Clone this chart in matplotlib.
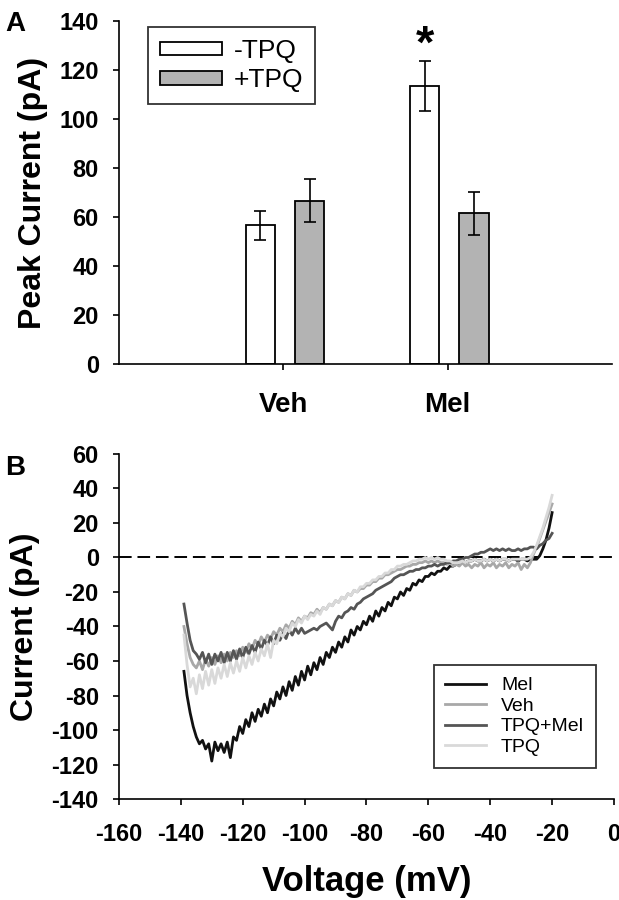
import matplotlib
matplotlib.use("Agg")
import matplotlib.pyplot as plt
import numpy as np

plt.rcParams["font.family"] = ["Liberation Sans", "DejaVu Sans"]
plt.rcParams["axes.unicode_minus"] = False

# panel A data
groups = ["Veh", "Mel"]
peak_minus = [56.6, 113.4]
err_minus = [5.8, 10.3]
peak_plus = [66.6, 61.5]
err_plus = [8.8, 8.7]
legend_a = ["-TPQ", "+TPQ"]

# panel B data, one value per mV from -139 to -20
voltage = list(range(-139, -19))
mel = [-66, -80, -90, -98, -104, -108, -106, -111, -108, -118,
       -107, -112, -108, -113, -107, -116, -104, -106, -98, -102,
       -94, -98, -90, -95, -88, -92, -85, -90, -82, -86,
       -78, -82, -75, -80, -72, -77, -69, -74, -66, -71,
       -63, -68, -61, -65, -58, -62, -55, -58, -52, -55,
       -49, -52, -46, -49, -42, -45, -40, -42, -37, -39,
       -34, -37, -31, -34, -29, -31, -26, -28, -23, -24,
       -20, -22, -18, -19, -15, -16, -13, -14, -11, -11,
       -9, -10, -8, -8, -6, -7, -5, -5, -4, -4,
       -2, -3, -2, -2, -1, -2, -2, -1, -2, -1,
       -2, -1, -2, -1, -1, -2, -1, -1, -2, -1,
       -1, -2, -1, -1, -1, 1, 5, 10, 17, 26]
veh = [-40, -50, -58, -62, -64, -60, -65, -59, -63, -58,
       -62, -57, -61, -56, -60, -55, -58, -54, -57, -52,
       -55, -50, -53, -48, -51, -46, -49, -45, -47, -43,
       -45, -41, -43, -39, -41, -37, -39, -35, -37, -34,
       -35, -32, -33, -30, -32, -29, -30, -27, -28, -25,
       -26, -23, -24, -21, -22, -19, -20, -18, -18, -16,
       -16, -14, -14, -12, -12, -10, -10, -9, -8, -7,
       -7, -6, -5, -5, -4, -4, -3, -3, -2, -3,
       -2, -3, -2, -3, -3, -4, -3, -5, -4, -5,
       -3, -5, -4, -6, -4, -5, -3, -6, -4, -5,
       -3, -6, -4, -5, -3, -6, -4, -5, -3, -7,
       -4, -6, -3, 2, 6, 11, 16, 21, 26, 31]
tpq_mel = [-27, -38, -48, -54, -56, -59, -55, -61, -56, -62,
           -56, -60, -55, -61, -55, -60, -54, -59, -53, -58,
           -52, -56, -51, -55, -49, -53, -48, -51, -46, -50,
           -45, -48, -44, -47, -42, -45, -41, -44, -41, -44,
           -43, -42, -41, -42, -40, -39, -38, -40, -42, -37,
           -34, -35, -32, -31, -29, -30, -27, -26, -24, -23,
           -22, -21, -19, -18, -17, -16, -15, -14, -12, -11,
           -10, -10, -9, -8, -8, -7, -7, -6, -6, -5,
           -5, -4, -5, -4, -4, -3, -3, -2, -2, -1,
           -1, 0, 0, 1, 2, 2, 3, 3, 4, 5,
           4, 5, 4, 5, 4, 5, 4, 4, 5, 4,
           5, 5, 6, 6, 5, 7, 8, 10, 11, 14]
tpq = [-45, -62, -75, -70, -79, -68, -76, -66, -74, -65,
       -73, -64, -70, -62, -69, -61, -67, -60, -66, -58,
       -64, -57, -62, -55, -60, -53, -57, -50, -58, -48,
       -50, -44, -46, -41, -43, -38, -40, -36, -38, -34,
       -36, -33, -34, -31, -33, -29, -30, -27, -28, -25,
       -26, -23, -24, -21, -22, -19, -20, -17, -17, -15,
       -15, -13, -13, -11, -11, -9, -9, -7, -7, -5,
       -5, -4, -4, -3, -2, -2, -1, -1, 0, -1,
       0, -1, 0, -1, -1, -2, -2, -3, -3, -3,
       -2, -3, -2, -2, -1, -2, -2, -1, -2, -1,
       -2, -1, -2, -1, -1, -2, -1, -1, -1, -1,
       -1, -1, 0, 3, 7, 12, 17, 23, 29, 36]
trace_names = ["Mel", "Veh", "TPQ+Mel", "TPQ"]
trace_colors = ["#111111", "#a8a8a8", "#555555", "#d9d9d9"]

fig = plt.figure(figsize=(6.19, 9.0), dpi=100)

# ---- panel A ----
axA = fig.add_axes([0.1922, 0.5956, 0.7965, 0.3811])
x = np.arange(len(groups))
w = 0.18
axA.bar(x - 0.14, peak_minus, w, color="white", edgecolor="black", lw=1.3,
        label=legend_a[0], zorder=2)
axA.bar(x + 0.16, peak_plus, w, color="#b3b3b3", edgecolor="black", lw=1.3,
        label=legend_a[1], zorder=2)
axA.errorbar(x - 0.14, peak_minus, yerr=err_minus, fmt="none", ecolor="black",
             elinewidth=1.2, capsize=4, capthick=1.2, zorder=3)
axA.errorbar(x + 0.16, peak_plus, yerr=err_plus, fmt="none", ecolor="black",
             elinewidth=1.2, capsize=4, capthick=1.2, zorder=3)
axA.text(1 - 0.14, 130, "*", ha="center", va="center", fontsize=34, fontweight="bold")

axA.set_xlim(-1, 2)
axA.set_ylim(0, 140)
axA.set_yticks(range(0, 141, 20))
axA.set_xticks(x)
axA.set_xticklabels(groups, fontsize=20, fontweight="bold")
axA.set_ylabel("Peak Current (pA)", fontsize=23, fontweight="bold", labelpad=8)
for s in ["top", "right"]:
    axA.spines[s].set_visible(False)
for s in ["left", "bottom"]:
    axA.spines[s].set_linewidth(1.2)
axA.tick_params(axis="y", direction="out", length=4.5, width=1.2, pad=10, labelsize=17)
axA.tick_params(axis="x", direction="out", length=4, width=1.2, pad=16)
for lab in axA.get_yticklabels():
    lab.set_fontweight("bold")
legA = axA.legend(loc="upper left", bbox_to_anchor=(0.059, 0.983), borderaxespad=0,
                  fontsize=19, frameon=True, fancybox=False, edgecolor="black",
                  handlelength=2.35, handleheight=0.4, handletextpad=0.45,
                  borderpad=0.45, labelspacing=0.22)
legA.get_frame().set_linewidth(1.3)
fig.text(0.008, 0.988, "A", fontsize=20, fontweight="bold", va="top")

# ---- panel B ----
axB = fig.add_axes([0.1922, 0.1122, 0.7997, 0.3834])
axB.axhline(0, color="black", lw=1.4, ls=(0, (6.5, 3)), zorder=1)
for vals, name, col in zip([mel, veh, tpq_mel, tpq], trace_names, trace_colors):
    axB.plot(voltage, vals, color=col, lw=2.0, label=name, zorder=2)
axB.set_xlim(-160, 0)
axB.set_ylim(-140, 60)
axB.set_xticks(range(-160, 1, 20))
axB.set_yticks(range(-140, 61, 20))
axB.set_xlabel("Voltage (mV)", fontsize=25, fontweight="bold", labelpad=14)
axB.set_ylabel("Current (pA)", fontsize=23, fontweight="bold", labelpad=8)
for s in ["top", "right"]:
    axB.spines[s].set_visible(False)
for s in ["left", "bottom"]:
    axB.spines[s].set_linewidth(1.2)
axB.tick_params(axis="y", direction="out", length=4.5, width=1.2, pad=10, labelsize=17)
axB.tick_params(axis="x", direction="out", length=4, width=1.2, pad=13, labelsize=17)
for lab in axB.get_xticklabels() + axB.get_yticklabels():
    lab.set_fontweight("bold")
legB = axB.legend(loc="upper left", bbox_to_anchor=(0.636, 0.388), borderaxespad=0,
                  fontsize=14, frameon=True, fancybox=False, edgecolor="black",
                  handlelength=2.1, handletextpad=0.75, borderpad=0.6,
                  labelspacing=0.15)
legB.get_frame().set_linewidth(1.3)
fig.text(0.008, 0.494, "B", fontsize=20, fontweight="bold", va="top")

fig.savefig("out.png", dpi=100)
